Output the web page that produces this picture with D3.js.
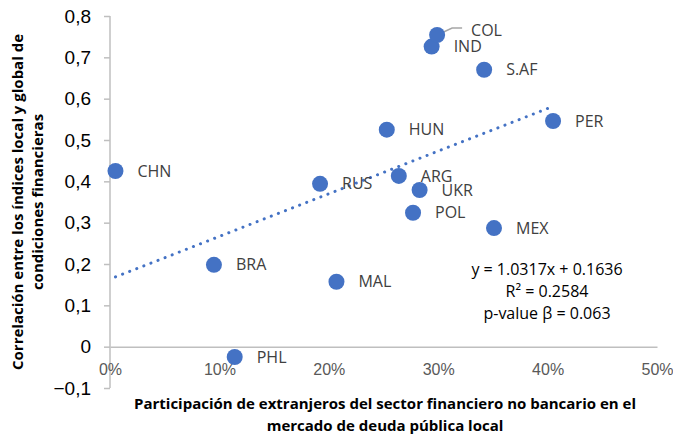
<!DOCTYPE html>
<meta charset="utf-8">
<style>
body { margin: 0; background: #fff; }
svg { font-family: "Open Sans", Lato, sans-serif; }
.label { fill: #404040; font-size: 16px; }
.xtick text { fill: #595959; font-size: 16px; }
.ytick text { fill: #000; font-size: 19px; }
.title { font-weight: bold; font-size: 15px; fill: #000; }
.eq { font-size: 16px; fill: #000; }
.trend { fill: none; stroke: #4472c4; stroke-width: 3px; stroke-dasharray: 0.1 7.5; stroke-linecap: round; }
</style>
<body>
<script src="https://d3js.org/d3.v7.min.js"></script>
<script>

// data
var countries = ["CHN", "BRA", "PHL", "RUS", "MAL", "HUN", "ARG", "UKR", "POL", "MEX", "PER", "S.AF", "IND", "COL"];
var share     = [0.005, 0.095, 0.114, 0.192, 0.207, 0.253, 0.264, 0.283, 0.277, 0.351, 0.405, 0.342, 0.294, 0.299];
var corr      = [0.425, 0.198, -0.025, 0.394, 0.157, 0.525, 0.413, 0.379, 0.324, 0.287, 0.546, 0.670, 0.726, 0.754];
var xTicks = [0, 0.1, 0.2, 0.3, 0.4, 0.5];
var yTicks = [-0.1, 0, 0.1, 0.2, 0.3, 0.4, 0.5, 0.6, 0.7, 0.8];
var slope = 1.0317, intercept = 0.1636;
var eqLines = ["y = 1.0317x + 0.1636", "R² = 0.2584", "p-value β = 0.063"];

var W = 673, H = 439;
var margin = {top: 16, right: 16, bottom: 51, left: 110};

var svg = d3.select("body").append("svg")
    .attr("width", W)
    .attr("height", H);

var x = d3.scaleLinear().domain([0, 0.5]).range([margin.left, 657]);
var y = d3.scaleLinear().domain([-0.1, 0.8]).range([H - margin.bottom, margin.top]);

var fmtYt = function(d) { return Math.abs(d) < 1e-9 ? "0" : d3.format(".1f")(d).replace(".", ","); };

// y axis
var yAxis = svg.append("g")
    .attr("class", "ytick")
    .attr("transform", "translate(" + x(0) + ",0)")
    .call(d3.axisLeft(y).tickValues(yTicks).tickFormat(fmtYt).tickSize(6).tickPadding(13));
yAxis.selectAll("line, path").attr("stroke", "#bfbfbf").attr("stroke-width", 1.5);
yAxis.select(".domain").attr("d", "M0," + y(-0.1) + "V" + y(0.8));
yAxis.selectAll("text").attr("font-family", null).attr("font-size", null);

// x axis along y = 0, labels just below
var xAxis = svg.append("g")
    .attr("class", "xtick")
    .attr("transform", "translate(0," + y(0) + ")")
    .call(d3.axisBottom(x).tickValues(xTicks).tickFormat(d3.format(".0%")).tickSize(0).tickPadding(17));
xAxis.select(".domain").attr("stroke", "#bfbfbf").attr("stroke-width", 1.5);
xAxis.selectAll("text").attr("font-family", null).attr("font-size", null);

// trend line across data range
var xr = d3.extent(share);
svg.append("line")
    .attr("class", "trend")
    .attr("x1", x(xr[0])).attr("y1", y(slope * xr[0] + intercept))
    .attr("x2", x(xr[1])).attr("y2", y(slope * xr[1] + intercept));

var pts = countries.map(function(c, i) { return {name: c, x: share[i], y: corr[i]}; });

// COL leader line
var col = pts.find(function(d) { return d.name === "COL"; });
svg.append("polyline")
    .attr("points", [[x(col.x), y(col.y)], [x(col.x) + 15, y(col.y) - 7], [x(col.x) + 25, y(col.y) - 7]].join(" "))
    .attr("fill", "none").attr("stroke", "#a6a6a6").attr("stroke-width", 1.5);

svg.selectAll("circle.pt")
    .data(pts)
  .enter().append("circle")
    .attr("class", "pt")
    .attr("cx", function(d) { return x(d.x); })
    .attr("cy", function(d) { return y(d.y); })
    .attr("r", 8)
    .attr("fill", "#4472c4");

svg.selectAll("text.label")
    .data(pts)
  .enter().append("text")
    .attr("class", "label")
    .attr("x", function(d) { return x(d.x) + (d.name === "COL" ? 34 : 22); })
    .attr("y", function(d) { return y(d.y) + (d.name === "COL" ? -5 : 0); })
    .attr("dy", "0.35em")
    .text(function(d) { return d.name; });

// equation box
svg.selectAll("text.eq")
    .data(eqLines)
  .enter().append("text")
    .attr("class", "eq")
    .attr("x", 547)
    .attr("y", function(d, i) { return 269 + i * 22; })
    .attr("dy", "0.35em")
    .attr("text-anchor", "middle")
    .text(function(d) { return d; });

// axis titles
var xt = svg.append("text").attr("class", "title").attr("text-anchor", "middle");
xt.append("tspan").attr("x", 385).attr("y", 409).text("Participación de extranjeros del sector financiero no bancario en el");
xt.append("tspan").attr("x", 385).attr("y", 431).text("mercado de deuda pública local");

var yt = svg.append("text").attr("class", "title").attr("text-anchor", "middle")
    .attr("transform", "translate(0,202) rotate(-90)");
yt.append("tspan").attr("x", 0).attr("y", 23).text("Correlación entre los índices local y global de");
yt.append("tspan").attr("x", 0).attr("y", 43).text("condiciones financieras");

</script>
</body>
